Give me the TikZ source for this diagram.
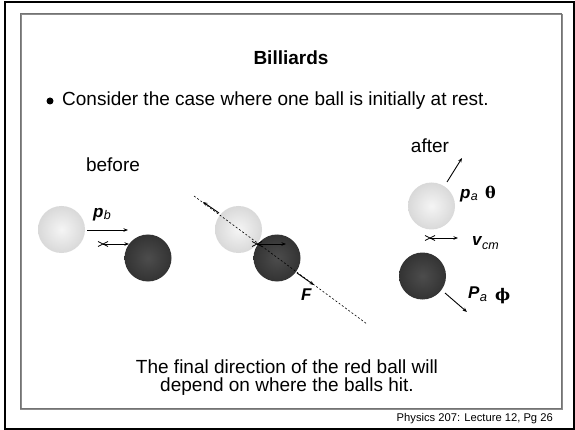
\documentclass[tikz,border=0pt]{standalone}
\usepackage{fontspec}
\setmainfont{Liberation Sans}
\newfontfamily\greekfont{DejaVu Serif}
\usetikzlibrary{arrows.meta,calc}
\begin{document}
\begin{tikzpicture}[x=1pt,y=-1pt,
  lightball/.style={circle,shade,inner color=white!96!black,outer color=black!15,minimum size=47pt,inner sep=0pt,draw=none},
  darkball/.style={circle,shade,inner color=black!70,outer color=black!80,minimum size=47pt,inner sep=0pt,draw=none},
  vec/.style={-{Stealth[length=4.5pt,width=3.5pt]},line width=0.9pt},
  crossmark/.style={line width=0.7pt},
  txt/.style={inner sep=0pt,anchor=base,font=\fontsize{19}{22}\selectfont},
  lbl/.style={inner sep=0pt,anchor=base west,font=\fontsize{17}{19}\selectfont\bfseries\itshape},
  sub/.style={inner sep=0pt,anchor=base west,font=\fontsize{12.5}{14}\selectfont\itshape},
  grk/.style={inner sep=0pt,anchor=base west,font=\fontsize{16}{18}\selectfont\greekfont\bfseries}
]
\useasboundingbox (0,0) rectangle (575,430);
% frames
\draw[line width=2pt] (5,2) rectangle (573.5,428.5);
\draw[black!45,line width=1.5pt] (21,14.5) rectangle (562.5,409.5);
\draw[black!55,line width=0.8pt] (20,13) rectangle (561,408);

% texts
\node[txt,font=\fontsize{19}{22}\selectfont\bfseries] (title) at (291,65) {Billiards};
\fill (50,101) circle (3.5);
\node[txt,anchor=base west] (consider) at (62,106) {Consider the case where one ball is initially at rest.};
\node[txt] (before) at (113,172) {before};
\node[txt] (after) at (430,153) {after};
\node[txt] (line1) at (287,373) {The final direction of the red ball will};
\node[txt] (line2) at (287,391) {depend on where the balls hit.};
\node[inner sep=0pt,anchor=base east,font=\fontsize{11.2}{13}\selectfont] (footer) at (553,421) {Physics 207: Lecture 12, Pg 26};

% left: before
\node[lightball] (b1) at (61.5,229.5) {};
\node[darkball] (r1) at (148,258) {};
\coordinate (pb0) at (87,230);
\coordinate (pb1) at (128,230);
\draw[vec] (pb0) -- (pb1);
\node[lbl] (pb) at (93,218) {p};
\node[sub] (pbs) at ([yshift=-2pt]pb.base east) {b};
\coordinate (cm1) at (103,244);
\coordinate (cm1e) at (129,244);
\draw[crossmark] ($(cm1)+(-5,-2.5)$) -- ++(10,5) ($(cm1)+(-5,2.5)$) -- ++(10,-5);
\draw[vec] (cm1) -- (cm1e);

% middle: collision
\node[lightball] (b2) at (238.5,229.5) {};
\node[darkball] (r2) at (277,258) {};
\coordinate (d0) at (194,196);
\coordinate (d1) at (367,324);
\draw[dash pattern=on 2pt off 2pt,line width=0.6pt] (d0) -- (d1);
\coordinate (fa0) at (219,213);
\coordinate (fa1) at (203,202);
\draw[vec] (fa0) -- (fa1);
\coordinate (fb0) at (297,273);
\coordinate (fb1) at (314,285);
\draw[vec] (fb0) -- (fb1);
\node[lbl] (F) at (301,300) {F};
\coordinate (cm2) at (257,244);
\coordinate (cm2e) at (286,244);
\draw[crossmark] ($(cm2)+(-5,-2.5)$) -- ++(10,5) ($(cm2)+(-5,2.5)$) -- ++(10,-5);
\draw[vec] (cm2) -- (cm2e);

% right: after
\node[lightball] (b3) at (431.5,206) {};
\node[darkball] (r3) at (422.5,276) {};
\coordinate (pa0) at (447,182);
\coordinate (pa1) at (462,158);
\draw[vec] (pa0) -- (pa1);
\node[lbl] (pa) at (460,199) {p};
\node[sub] (pas) at ([yshift=-2pt]pa.base east) {a};
\node[grk] (theta) at (485,199) {θ};
\coordinate (cm3) at (430,238);
\coordinate (cm3e) at (458,238);
\draw[crossmark] ($(cm3)+(-5,-2.5)$) -- ++(10,5) ($(cm3)+(-5,2.5)$) -- ++(10,-5);
\draw[vec] (cm3) -- (cm3e);
\node[lbl] (vcm) at (472,246) {v};
\node[sub] (vcms) at ([yshift=-3pt]vcm.base east) {cm};
\coordinate (Pa0) at (445,293);
\coordinate (Pa1) at (467,312);
\draw[vec] (Pa0) -- (Pa1);
\node[lbl] (Pa) at (468,298) {P};
\node[sub,font=\fontsize{13}{15}\selectfont\itshape] (Pas) at ([yshift=-3pt]Pa.base east) {a};
\node[grk] (phi) at (495,300) {ϕ};
\end{tikzpicture}
\end{document}
